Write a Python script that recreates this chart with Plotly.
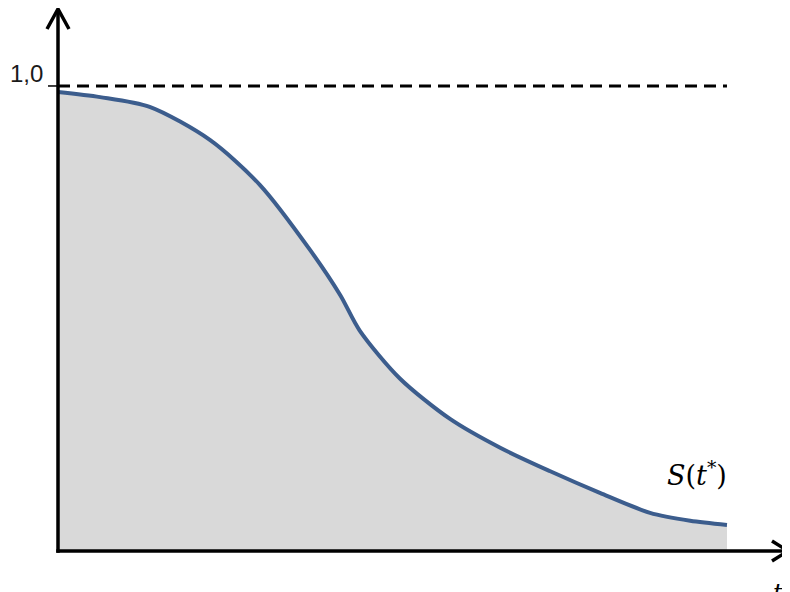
import plotly.graph_objects as go

# survival curve S(t*)
t_vals = [0.0, 0.63, 1.37, 2.27, 3.02, 3.77, 4.22, 4.51, 5.11, 5.86, 6.61, 7.35, 8.10, 8.85, 9.45, 10.0]
s_vals = [0.987, 0.976, 0.955, 0.884, 0.787, 0.647, 0.550, 0.474, 0.371, 0.284, 0.222, 0.172, 0.125, 0.082, 0.065, 0.056]
ref_level = 1.0
ref_label = "1,0"
curve_label = "<i>S</i>(<i>t</i><sup>*</sup>)"
x_label = "<i>t</i><sup>*</sup>"

# view window (figure is placed at an 8px page offset)
X_RANGE = [-0.7474, 10.942]
Y_RANGE = [-0.0882, 1.1677]

# axis arrow geometry (data units)
Y_TIP = 1.1656
Y_ARM = 1.1226
Y_ARM_DX = 0.1644
X_TIP = 10.912
X_ARM = 10.673
X_ARM_DY = 0.0215

fig = go.Figure()
fig.add_trace(go.Scatter(
    x=t_vals, y=s_vals, mode="lines",
    line=dict(color="#3C5D8D", width=4, shape="spline", smoothing=0.8),
    fill="tozeroy", fillcolor="#D9D9D9", hoverinfo="skip", showlegend=False))

# dashed reference line at 1,0 and its tick
fig.add_shape(type="line", xref="x", yref="y", x0=0, x1=t_vals[-1], y0=ref_level, y1=ref_level,
              line=dict(color="black", width=3, dash="12px,7px"))
fig.add_shape(type="line", xref="x", yref="y", x0=-0.15, x1=0, y0=ref_level, y1=ref_level,
              line=dict(color="black", width=1.5))

axis_line = dict(color="black", width=3.5)
# y axis + arrow
fig.add_shape(type="line", xref="x", yref="y", x0=0, x1=0, y0=-0.004, y1=Y_TIP - 0.004, line=axis_line)
fig.add_shape(type="path", xref="x", yref="y",
              path=f"M {-Y_ARM_DX},{Y_ARM} L 0,{Y_TIP} L {Y_ARM_DX},{Y_ARM}", line=axis_line)
# x axis + arrow
fig.add_shape(type="line", xref="x", yref="y", x0=-0.026, x1=X_TIP - 0.03, y0=0, y1=0, line=axis_line)
fig.add_shape(type="path", xref="x", yref="y",
              path=f"M {X_ARM},{X_ARM_DY} L {X_TIP},0 L {X_ARM},{-X_ARM_DY}", line=axis_line)

fig.add_annotation(x=-0.478, y=1.026, xref="x", yref="y", text=ref_label, showarrow=False,
                   xanchor="center", yanchor="middle",
                   font=dict(family="Liberation Sans", size=24, color="#1a1a1a"))
fig.add_annotation(x=9.55, y=0.1656, xref="x", yref="y", text=curve_label, showarrow=False,
                   xanchor="center", yanchor="middle",
                   font=dict(family="DejaVu Serif", size=27, color="black"))
fig.add_annotation(x=10.66, y=-0.047, xref="x", yref="y", text=x_label, showarrow=False,
                   xanchor="left", yanchor="top",
                   font=dict(family="DejaVu Serif", size=24, color="black"))

fig.update_xaxes(range=X_RANGE, visible=False, fixedrange=True)
fig.update_yaxes(range=Y_RANGE, visible=False, fixedrange=True)
fig.update_layout(width=782, height=584, margin=dict(l=0, r=0, t=0, b=0),
                  plot_bgcolor="white", paper_bgcolor="white")

fig.write_html("out.html")
